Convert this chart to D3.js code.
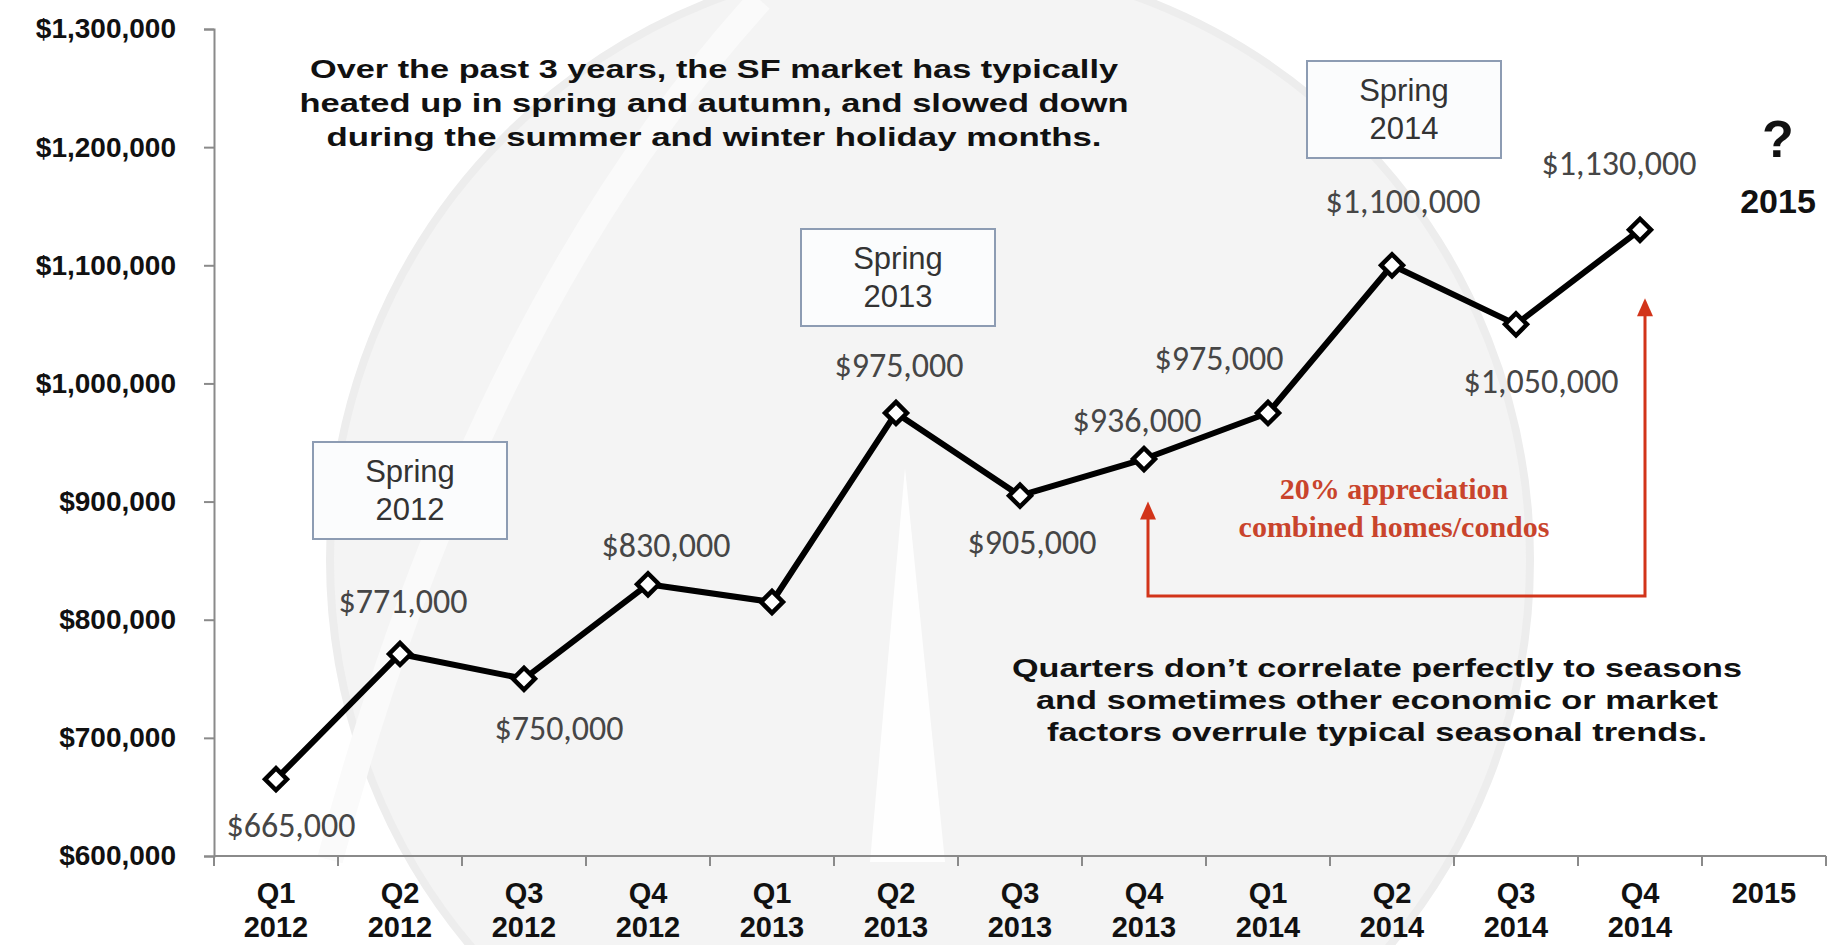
<!DOCTYPE html>
<html>
<head>
<meta charset="utf-8">
<script src="https://cdn.jsdelivr.net/npm/d3@7"></script>
<style>
  body { margin: 0; background: #fff; }
  svg { display: block; }
</style>
</head>
<body>
<svg id="chart" width="1834" height="945"></svg>
<script>
// quarterly median sale price, SF homes + condos
const categories = ["Q1 2012", "Q2 2012", "Q3 2012", "Q4 2012", "Q1 2013", "Q2 2013",
  "Q3 2013", "Q4 2013", "Q1 2014", "Q2 2014", "Q3 2014", "Q4 2014", "2015"];
const prices = [665000, 771000, 750000, 830000, 815000, 975000,
  905000, 936000, 975000, 1100000, 1050000, 1130000];
const showLabel = [true, true, true, true, false, true, true, true, true, true, true, true];
const yTicks = [600000, 700000, 800000, 900000, 1000000, 1100000, 1200000, 1300000];
const springs = ["Spring 2012", "Spring 2013", "Spring 2014"];
const springAnchors = ["Q2 2012", "Q2 2013", "Q2 2014"];

const noteTop = [
  "Over the past 3 years, the SF market has typically",
  "heated up in spring and autumn, and slowed down",
  "during the summer and winter holiday months."
];
const noteBottom = [
  "Quarters don\u2019t correlate perfectly to seasons",
  "and sometimes other economic or market",
  "factors overrule typical seasonal trends."
];
const appreciation = ["20% appreciation", "combined homes/condos"];

// label placement next to each point (dx, dy to baseline)
const labelOffsets = [[15, 58], [3, -41], [35, 61], [18, -27], null, [3, -36],
  [12, 58], [-7, -27], [-49, -43], [11, -52], [25, 69], [-21, -55]];

const svg = d3.select("#chart");
const width = +svg.attr("width");
const height = +svg.attr("height");

const x = d3.scaleBand().domain(categories).range([214, 1826]);
const y = d3.scaleLinear().domain([600000, 1300000]).range([856, 29]);
const cx = d => x(d) + x.bandwidth() / 2;

const arial = "'Liberation Sans', Arial, sans-serif";
const calibri = "Carlito, Calibri, Lato, sans-serif";

// faint watermark behind the chart
const wm = svg.append("g");
wm.append("circle").attr("cx", 930).attr("cy", 560).attr("r", 600)
  .attr("fill", "#f4f4f4").attr("stroke", "#ededed").attr("stroke-width", 8);
wm.append("path")
  .attr("d", "M905,468 L870,862 L945,862 Z")
  .attr("fill", "#fff").attr("opacity", 0.9);
wm.append("path")
  .attr("d", "M330,860 C420,520 560,220 760,0")
  .attr("fill", "none").attr("stroke", "#fafafa").attr("stroke-width", 26);

// y axis
const yAxis = svg.append("g")
  .attr("transform", `translate(${x.range()[0]},0)`)
  .call(d3.axisLeft(y).tickValues(yTicks).tickFormat(d3.format("$,")).tickSize(10).tickPadding(28));
yAxis.select(".domain").attr("stroke", "#8a8a8a").attr("stroke-width", 2);
yAxis.selectAll(".tick line").attr("stroke", "#8a8a8a").attr("stroke-width", 2);
yAxis.selectAll(".tick text")
  .attr("font-family", arial).attr("font-weight", "bold")
  .attr("font-size", 28).attr("fill", "#111");

// x axis: line, ticks on band edges, two-line labels
const y0 = y.range()[0];
const xAxis = svg.append("g");
xAxis.append("line")
  .attr("x1", x.range()[0]).attr("x2", x.range()[1])
  .attr("y1", y0).attr("y2", y0)
  .attr("stroke", "#8a8a8a").attr("stroke-width", 2);
const edges = categories.map(d => x(d)).concat(x.range()[1]);
xAxis.selectAll(".edge").data(edges).join("line")
  .attr("x1", d => d).attr("x2", d => d)
  .attr("y1", y0).attr("y2", y0 + 10)
  .attr("stroke", "#8a8a8a").attr("stroke-width", 2);
const xl = xAxis.selectAll(".xl").data(categories).join("text")
  .attr("text-anchor", "middle")
  .attr("font-family", arial).attr("font-weight", "bold")
  .attr("font-size", 29).attr("fill", "#111");
xl.selectAll("tspan").data(d => d.split(" ")).join("tspan")
  .attr("x", function () { return cx(d3.select(this.parentNode).datum()); })
  .attr("y", (d, i) => y0 + 47 + i * 34)
  .text(d => d);

// spring boxes
springs.forEach((s, i) => {
  const bx = cx(springAnchors[i]) + [10, 2, 12][i];
  const top = [442, 229, 61][i];
  svg.append("rect")
    .attr("x", bx - 97).attr("y", top).attr("width", 194).attr("height", 97)
    .attr("fill", "#fbfcfd").attr("stroke", "#8d9cb3").attr("stroke-width", 2);
  s.split(" ").forEach((w, j) => {
    svg.append("text")
      .attr("x", bx).attr("y", top + 40 + j * 38)
      .attr("text-anchor", "middle")
      .attr("font-family", arial).attr("font-size", 31).attr("fill", "#333")
      .text(w);
  });
});

// text notes, stretched to the width they have in the picture
function note(lines, mid, top, step, widths) {
  lines.forEach((t, i) => {
    svg.append("text")
      .attr("x", mid - widths[i] / 2).attr("y", top + i * step)
      .attr("textLength", widths[i]).attr("lengthAdjust", "spacingAndGlyphs")
      .attr("font-family", arial).attr("font-weight", "bold")
      .attr("font-size", 26).attr("fill", "#111")
      .text(t);
  });
}
note(noteTop, 714, 78, 34, [808, 829, 775]);
note(noteBottom, 1377, 677, 32, [730, 682, 660]);

// red appreciation bracket
const red = "#d2341a";
const lx = cx("Q4 2013") + 4, rx = cx("Q4 2014") + 5, by = y(820000);
svg.append("path")
  .attr("d", `M${lx},${y(900000) + 14} V${by} H${rx} V${y(1072000) + 14}`)
  .attr("fill", "none").attr("stroke", red).attr("stroke-width", 3);
[[lx, y(900000)], [rx, y(1072000)]].forEach(([ax, ay]) => {
  svg.append("path")
    .attr("d", `M${ax},${ay} L${ax - 8},${ay + 18} L${ax + 8},${ay + 18} Z`)
    .attr("fill", red);
});
appreciation.forEach((t, i) => {
  svg.append("text")
    .attr("x", 1394).attr("y", 499 + i * 38)
    .attr("text-anchor", "middle")
    .attr("font-family", "'Liberation Serif', 'Times New Roman', serif")
    .attr("font-weight", "bold").attr("font-size", 30).attr("fill", "#c9442c")
    .text(t);
});

// question mark for 2015
svg.append("text").attr("x", 1778).attr("y", 157).attr("text-anchor", "middle")
  .attr("font-family", arial).attr("font-weight", "bold").attr("font-size", 52)
  .attr("fill", "#111").text("?");
svg.append("text").attr("x", 1778).attr("y", 213).attr("text-anchor", "middle")
  .attr("font-family", arial).attr("font-weight", "bold").attr("font-size", 34)
  .attr("fill", "#111").text("2015");

// price line + diamond markers
const pts = prices.map((v, i) => ({ cat: categories[i], v, i }));
const line = d3.line().x(d => cx(d.cat)).y(d => y(d.v));
svg.append("path")
  .datum(pts)
  .attr("d", line)
  .attr("fill", "none")
  .attr("stroke", "#000")
  .attr("stroke-width", 6)
  .attr("stroke-linejoin", "round");

svg.selectAll(".marker").data(pts).join("path")
  .attr("d", d3.symbol(d3.symbolSquare, 240))
  .attr("transform", d => `translate(${cx(d.cat)},${y(d.v)}) rotate(45)`)
  .attr("fill", "#fff").attr("stroke", "#000").attr("stroke-width", 4.5);

const fmt = d3.format("$,");
svg.selectAll(".vlabel").data(pts.filter(d => showLabel[d.i])).join("text")
  .attr("x", d => cx(d.cat) + labelOffsets[d.i][0])
  .attr("y", d => y(d.v) + labelOffsets[d.i][1])
  .attr("text-anchor", "middle")
  .attr("font-family", calibri).attr("font-size", 34).attr("fill", "#464646")
  .text(d => fmt(d.v));
</script>
</body>
</html>
